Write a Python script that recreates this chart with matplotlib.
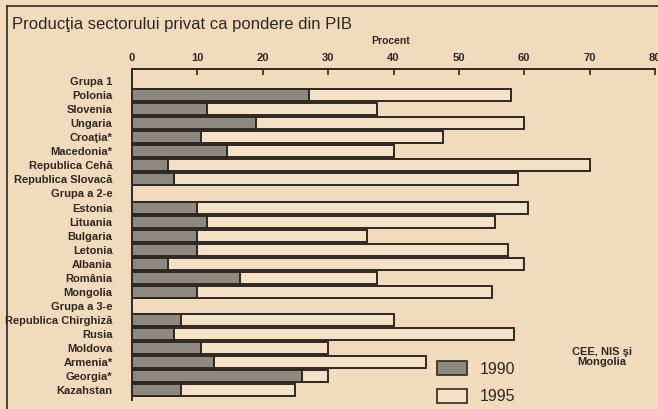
import matplotlib
matplotlib.use("Agg")
import matplotlib.pyplot as plt
import matplotlib.patches as mpatches
from matplotlib.lines import Line2D

# rows, top to bottom (None values = group heading rows)
labels = ["Grupa 1", "Polonia", "Slovenia", "Ungaria", "Croaţia*", "Macedonia*",
          "Republica Cehă", "Republica Slovacă",
          "Grupa a 2-e", "Estonia", "Lituania", "Bulgaria", "Letonia", "Albania",
          "România", "Mongolia",
          "Grupa a 3-e", "Republica Chirghiză", "Rusia", "Moldova", "Armenia*",
          "Georgia*", "Kazahstan"]
share_1990 = [None, 27, 11.5, 19, 10.5, 14.5, 5.5, 6.5,
              None, 10, 11.5, 10, 10, 5.5, 16.5, 10,
              None, 7.5, 6.5, 10.5, 12.5, 26, 7.5]
share_1995 = [None, 58, 37.5, 60, 47.5, 40, 70, 59,
              None, 60.5, 55.5, 36, 57.5, 60, 37.5, 55,
              None, 40, 58.5, 30, 45, 30, 25]
xticks = [0, 10, 20, 30, 40, 50, 60, 70, 80]

PAPER = "#f2dbbd"
BAR_LIGHT = "#f5e2c6"
BAR_DARK = "#8d897f"
INK = "#2e2722"

plt.rcParams["font.family"] = ["Liberation Sans", "DejaVu Sans"]

fig = plt.figure(figsize=(6.58, 4.09), dpi=100)
fig.patch.set_facecolor(PAPER)
ax = fig.add_axes([132 / 658, 9 / 409, 523 / 658, 331 / 409])
ax.set_facecolor(PAPER)

rows = list(range(len(labels)))
bh = 0.85
for i in rows:
    if share_1995[i] is not None:
        ax.barh(i, share_1995[i], height=bh, color=BAR_LIGHT, edgecolor=INK,
                linewidth=1.4, zorder=2)
    if share_1990[i] is not None:
        ax.barh(i, share_1990[i], height=bh, color=BAR_DARK, edgecolor=INK,
                linewidth=1.4, zorder=3)

ax.set_xlim(0, 80)
ax.set_ylim(22.68, -0.85)
ax.xaxis.tick_top()
ax.xaxis.set_label_position("top")
ax.set_xticks(xticks)
ax.set_xticklabels([str(t) for t in xticks], fontsize=8, fontweight="bold", color=INK)
ax.tick_params(axis="x", direction="in", length=4, width=1.2, color=INK, pad=4)
ax.set_xlabel("Procent", fontsize=7.5, fontweight="bold", color=INK)
ax.xaxis.set_label_coords(39.5 / 80, 1.075)

ax.set_yticks(rows)
ax.set_yticklabels(labels, fontsize=8, fontweight="bold", color=INK)
ax.tick_params(axis="y", length=0, pad=14)

for s in ["right", "bottom"]:
    ax.spines[s].set_visible(False)
for s in ["top", "left"]:
    ax.spines[s].set_color(INK)
    ax.spines[s].set_linewidth(1.4)

# outer frame of the clipping
fig.add_artist(Line2D([7 / 658, 1], [1 - 6 / 409, 1 - 6 / 409], color=INK, lw=1.2))
fig.add_artist(Line2D([7 / 658, 7 / 658], [0, 1 - 6 / 409], color=INK, lw=1.2))

fig.text(12 / 658, 1 - 24 / 409, "Producţia sectorului privat ca pondere din PIB",
         fontsize=12, color=INK, va="center", ha="left")

handles = [mpatches.Patch(facecolor=BAR_DARK, edgecolor=INK, linewidth=1.2, label="1990"),
           mpatches.Patch(facecolor=BAR_LIGHT, edgecolor=INK, linewidth=1.2, label="1995")]
fig.legend(handles=handles, loc="upper left",
           bbox_to_anchor=(437 / 658, 1 - 361 / 409), frameon=False,
           fontsize=11.5, handlelength=1.9, handleheight=1.0,
           handletextpad=0.8, labelspacing=0.75, borderpad=0, borderaxespad=0,
           labelcolor=INK)

fig.text(602 / 658, 1 - 357 / 409, "CEE, NIS şi\nMongolia", fontsize=8,
         fontweight="bold", color=INK, ha="center", va="center", linespacing=0.9)

fig.savefig("out.png", dpi=100, facecolor=PAPER)
